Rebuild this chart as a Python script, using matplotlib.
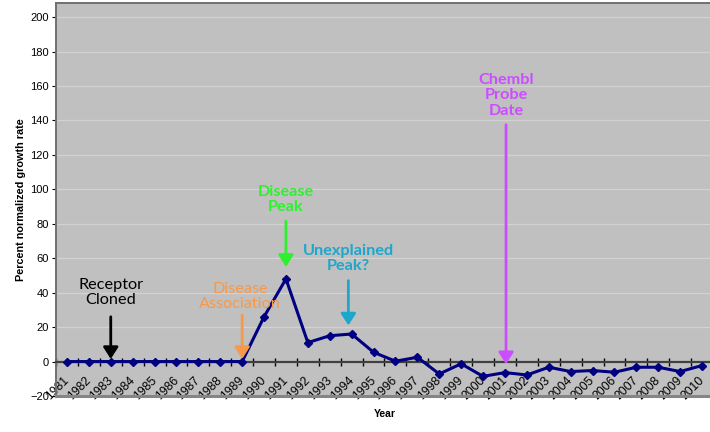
import matplotlib
matplotlib.use("Agg")
import matplotlib.pyplot as plt
import matplotlib.transforms as mtransforms
import numpy as np

years = list(range(1981, 2011))
growth = [0, 0, 0, 0, 0, 0, 0, 0, 0, 26, 48, 11, 15, 16, 5.4, 0.2, 2.5,
          -7.2, -1.3, -8.6, -6.4, -7.8, -3.3, -5.8, -5.2, -6.2, -3.3, -3.3, -5.8, -2.3]

# (text, colour, weight, text x (index), text y, arrow tail y, arrow tip x, arrow tip y)
notes = [
    ("Receptor\nCloned", "black", "normal", 2.0, 40, 26, 2.0, 1.5),
    ("Disease\nAssociation", "#f7994a", "normal", 7.9, 38, 27, 8.0, 1.5),
    ("Disease\nPeak", "#2ef02e", "bold", 10.0, 94, 81.5, 10.0, 55),
    ("Unexplained\nPeak?", "#1fa6cc", "bold", 12.85, 60, 47, 12.85, 21),
    ("Chembl\nProbe\nDate", "#cc4dff", "bold", 20.05, 154.5, 137.5, 20.05, -1.5),
]

plt.rcParams["font.family"] = ["Liberation Sans", "DejaVu Sans"]

fig = plt.figure(figsize=(7.10, 4.32), dpi=100)
ax = fig.add_axes([56 / 710, 36 / 432, 657 / 710, 393.5 / 432])
ax.set_facecolor("#c0c0c0")

x = np.arange(len(years))
ax.set_xlim(-0.5, len(years) - 0.5)
ax.set_ylim(-20, 208.5)

ax.set_yticks(range(-20, 201, 20))
ax.yaxis.grid(True, color="#d2d2d2", lw=0.9)
ax.set_axisbelow(True)
ax.tick_params(axis="y", labelsize=8, length=3, direction="out", pad=2)

# category axis sits on y = 0
ax.spines["bottom"].set_position(("data", 0))
ax.spines["bottom"].set_color("#404040")
ax.spines["bottom"].set_linewidth(1.6)
for s in ("left", "top", "right"):
    ax.spines[s].set_color("#707070")
    ax.spines[s].set_linewidth(1.4)
ax.axhline(-20, color="#858585", lw=2.2, clip_on=False, zorder=3)

ax.set_xticks(x)
ax.set_xticklabels([str(y) for y in years], rotation=45, ha="right",
                   rotation_mode="anchor", fontsize=8.8)
ax.set_xticks(np.arange(-0.5, len(years), 1.0), minor=True)
ax.tick_params(axis="x", which="major", length=0, pad=9.5)
ax.tick_params(axis="x", which="minor", length=6, direction="inout", width=1)
shift = mtransforms.ScaledTranslation(-4 / 100, 0, fig.dpi_scale_trans)
for lab in ax.get_xticklabels():
    lab.set_transform(lab.get_transform() + shift)

ax.plot(x, growth, color="#000080", lw=2.2, marker="D", ms=4.5, zorder=4)

ax.set_ylabel("Percent normalized growth rate", fontsize=7.8, fontweight="bold", labelpad=3)
ax.set_xlabel("Year", fontsize=7.5, fontweight="bold")
ax.xaxis.set_label_coords(0.5, -0.033)

for text, col, wt, tx, ty, tail, hx, hy in notes:
    ax.text(tx, ty, text, color=col, fontweight=wt, fontsize=11.7, family="Lato",
            ha="center", va="center", linespacing=1.1, zorder=5)
    ax.annotate("", xy=(hx, hy), xytext=(hx, tail),
                arrowprops=dict(arrowstyle="-|>,head_length=0.7,head_width=0.45",
                                color=col, lw=2, shrinkA=0, shrinkB=0), zorder=5)

fig.savefig("out.png", dpi=100)
